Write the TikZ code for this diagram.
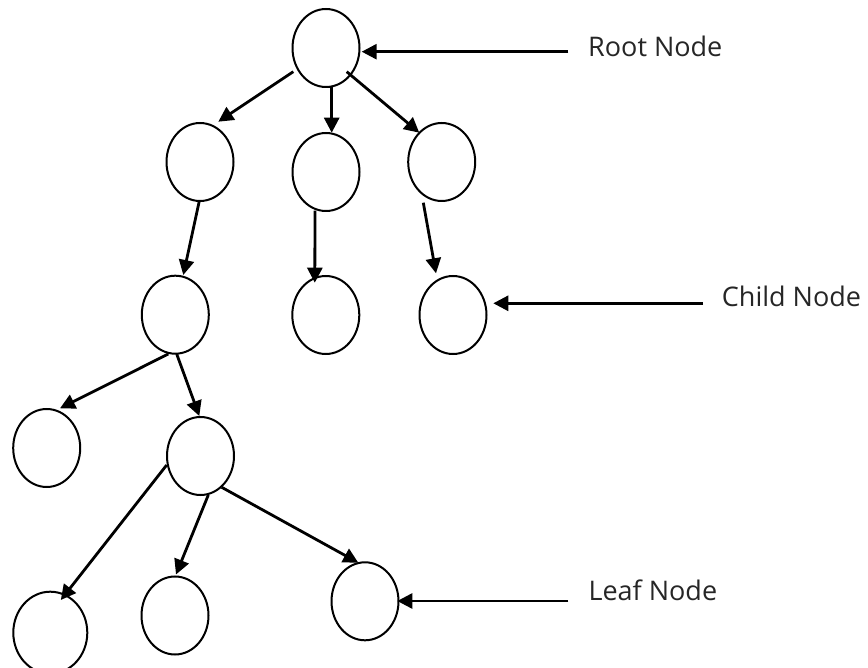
\documentclass[tikz,border=0pt]{standalone}
\usepackage{fontspec}
\setmainfont{Open Sans}
\usetikzlibrary{arrows.meta,shapes.geometric}

\tikzset{
  tnode/.style={ellipse, draw=black, line width=2pt, inner sep=0pt,
                minimum width=67pt, minimum height=78pt},
  wide/.style={minimum width=74pt, minimum height=82pt},
  arr/.style={draw=black, line width=2.8pt,
              -{Triangle[length=15pt,width=15pt]}},
  lbl/.style={anchor=base west, inner sep=0pt, font=\fontsize{27}{32}\selectfont,
              text=black!85}
}

\begin{document}
\begin{tikzpicture}[x=1pt, y=-1pt]
\useasboundingbox (0,0) rectangle (868,668);

% tree nodes
\node[tnode] (root) at (326,48) {};
\node[tnode] (a) at (200,162) {};
\node[tnode] (b) at (326,172) {};
\node[tnode] (c) at (441.7,162) {};
\node[tnode] (d) at (175.3,314.7) {};
\node[tnode] (e) at (325.8,315) {};
\node[tnode] (f) at (453,315) {};
\node[tnode] (g) at (46.7,448) {};
\node[tnode] (h) at (200.5,456) {};
\node[tnode,wide] (i) at (50.3,632.7) {};
\node[tnode] (j) at (175,615.5) {};
\node[tnode] (k) at (365,601.3) {};

% edges
\draw[arr] ([shift={(-32.7,23.7)}]root.center) -- ([shift={(18.3,-40.3)}]a.center);
\draw[arr] ([shift={(5.7,39.3)}]root.center) -- ([shift={(5.7,-39.3)}]b.center);
\draw[arr] ([shift={(20.7,23.7)}]root.center) -- ([shift={(-22.4,-29.3)}]c.center);
\draw[arr] ([shift={(-0.7,39)}]a.center) -- ([shift={(8,-39.7)}]d.center);
\draw[arr] ([shift={(-11,38.7)}]b.center) -- ([shift={(-11,-32.3)}]e.center);
\draw[arr] ([shift={(-18.4,40.7)}]c.center) -- ([shift={(-17,-41.7)}]f.center);
\draw[arr] ([shift={(-7,39.3)}]d.center) -- ([shift={(13.3,-39.7)}]g.center);
\draw[arr] ([shift={(1.4,39.3)}]d.center) -- ([shift={(-1.2,-40)}]h.center);
\draw[arr] ([shift={(-33.8,9)}]h.center) -- ([shift={(10.5,-32.7)}]i.center);
\draw[arr] ([shift={(7.8,39)}]h.center) -- ([shift={(1,-41)}]j.center);
\draw[arr] ([shift={(21.2,31.3)}]h.center) -- ([shift={(-6.7,-38.6)}]k.center);

% labels
\node[lbl] (rootlbl) at (588,57) {Root Node};
\node[lbl] (childlbl) at (721.7,306.7) {Child Node};
\node[lbl] (leaflbl) at (588.3,600) {Leaf Node};

\coordinate (rootend) at (568.3,51.7);
\coordinate (childend) at (703,303.3);
\coordinate (leafend) at (568.3,601);

\draw[arr] (rootend) -- ([shift={(35.7,3.7)}]root.center);
\draw[arr] (childend) -- ([shift={(40.3,-11.7)}]f.center);
\draw[arr] (leafend) -- ([shift={(32.3,-0.3)}]k.center);
\end{tikzpicture}
\end{document}
